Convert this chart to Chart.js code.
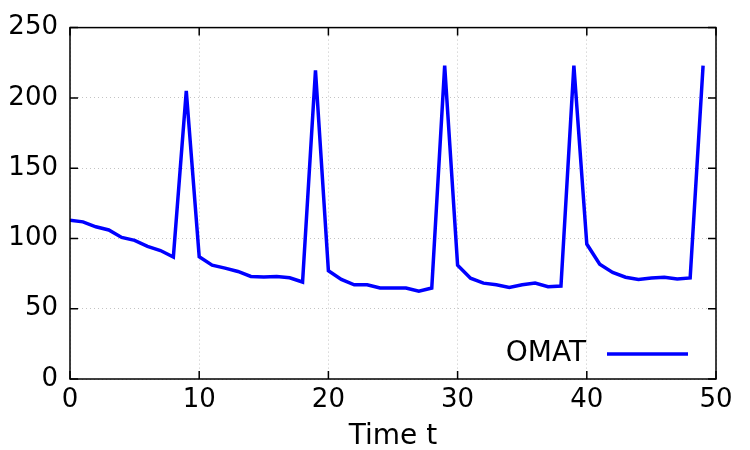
<!DOCTYPE html>
<html>
<head>
<meta charset="utf-8">
<title>OMAT</title>
<script src="https://cdn.jsdelivr.net/npm/chart.js@4/dist/chart.umd.min.js"></script>
<style>
    html, body { margin: 0; padding: 0; background: #fff; }
    #wrap { width: 750px; height: 450px; }
</style>
</head>
<body>
<div id="wrap"><canvas id="omatChart" width="750" height="450"></canvas></div>
<script>
// ========================================
// DADOS
// ========================================

const times = [0, 1, 2, 3, 4, 5, 6, 7, 8, 9,
    10, 11, 12, 13, 14, 15, 16, 17, 18, 19,
    20, 21, 22, 23, 24, 25, 26, 27, 28, 29,
    30, 31, 32, 33, 34, 35, 36, 37, 38, 39,
    40, 41, 42, 43, 44, 45, 46, 47, 48, 49];

const omatValues = [113, 111.8, 108.3, 106, 100.7, 98.6, 94.4, 91.4, 86.8, 205,
    87, 81, 78.9, 76.5, 73, 72.6, 73, 72, 69, 219.5,
    77, 70.8, 67, 67, 64.7, 64.7, 64.7, 62.4, 64.7, 223,
    81, 71.7, 68.2, 67, 65.2, 67, 68.2, 65.6, 66.1, 223,
    96, 81.6, 75.8, 72.4, 70.8, 71.9, 72.4, 71.2, 71.9, 223];

const xTicks = [0, 10, 20, 30, 40, 50];
const yTicks = [0, 50, 100, 150, 200, 250];

const seriesLabel = 'OMAT';
const xTitle = 'Time t';

const FONT = 'DejaVu Sans';

// ========================================
// PLUGINS
// ========================================

// Moldura com marcas de escala para dentro (estilo gnuplot)
const framePlugin = {
    id: 'frame',
    afterDatasetsDraw(chart) {
        const { ctx, chartArea: a, scales } = chart;
        const len = 8;
        ctx.save();
        ctx.strokeStyle = '#000';
        ctx.lineWidth = 1.5;
        ctx.strokeRect(a.left, a.top, a.right - a.left, a.bottom - a.top);
        ctx.beginPath();
        xTicks.forEach(v => {
            const px = scales.x.getPixelForValue(v);
            ctx.moveTo(px, a.bottom); ctx.lineTo(px, a.bottom - len);
            ctx.moveTo(px, a.top); ctx.lineTo(px, a.top + len);
        });
        yTicks.forEach(v => {
            const py = scales.y.getPixelForValue(v);
            ctx.moveTo(a.left, py); ctx.lineTo(a.left + len, py);
            ctx.moveTo(a.right, py); ctx.lineTo(a.right - len, py);
        });
        ctx.stroke();
        ctx.restore();
    }
};

// Legenda: texto à esquerda, amostra da linha à direita
const legendPlugin = {
    id: 'rightLegend',
    afterDatasetsDraw(chart) {
        const { ctx, chartArea: a } = chart;
        const ds = chart.data.datasets[0];
        const y = a.bottom - 25;
        const lineEnd = a.right - 28;
        const lineStart = lineEnd - 81;
        ctx.save();
        ctx.font = '28px "' + FONT + '"';
        ctx.fillStyle = '#000';
        ctx.textAlign = 'right';
        ctx.textBaseline = 'middle';
        ctx.fillText(ds.label, lineStart - 21, y);
        ctx.strokeStyle = ds.borderColor;
        ctx.lineWidth = ds.borderWidth;
        ctx.beginPath();
        ctx.moveTo(lineStart, y);
        ctx.lineTo(lineEnd, y);
        ctx.stroke();
        ctx.restore();
    }
};

// ========================================
// GRÁFICO
// ========================================

function initializeChart() {
    const ctx = document.getElementById('omatChart');

    new Chart(ctx, {
        type: 'line',
        data: {
            datasets: [{
                label: seriesLabel,
                data: times.map((t, i) => ({ x: t, y: omatValues[i] })),
                borderColor: '#0000ff',
                borderWidth: 3.5,
                pointRadius: 0,
                tension: 0,
                fill: false
            }]
        },
        options: {
            responsive: false,
            animation: false,
            layout: { padding: { top: 20, right: 34, left: 0, bottom: 0 } },
            plugins: {
                legend: { display: false },
                tooltip: { enabled: false }
            },
            scales: {
                x: {
                    type: 'linear',
                    min: 0,
                    max: 50,
                    afterFit: s => { s.height = 71; },
                    afterBuildTicks: s => { s.ticks = xTicks.map(v => ({ value: v })); },
                    border: { display: false, dash: [1, 3] },
                    grid: { color: '#c4c4c4', lineWidth: 1, drawTicks: false },
                    ticks: {
                        padding: 6,
                        color: '#000',
                        font: { family: FONT, size: 26 },
                        maxRotation: 0
                    },
                    title: {
                        display: true,
                        text: xTitle,
                        color: '#000',
                        font: { family: FONT, size: 28 },
                        padding: { top: 4, bottom: -4 }
                    }
                },
                y: {
                    min: 0,
                    max: 250,
                    afterFit: s => { s.width = 70; },
                    afterBuildTicks: s => { s.ticks = yTicks.map(v => ({ value: v })); },
                    border: { display: false, dash: [1, 3] },
                    grid: { color: '#c4c4c4', lineWidth: 1, drawTicks: false },
                    ticks: {
                        padding: 12,
                        color: '#000',
                        font: { family: FONT, size: 26 }
                    }
                }
            }
        },
        plugins: [framePlugin, legendPlugin]
    });
}

document.addEventListener('DOMContentLoaded', initializeChart);
</script>
</body>
</html>
